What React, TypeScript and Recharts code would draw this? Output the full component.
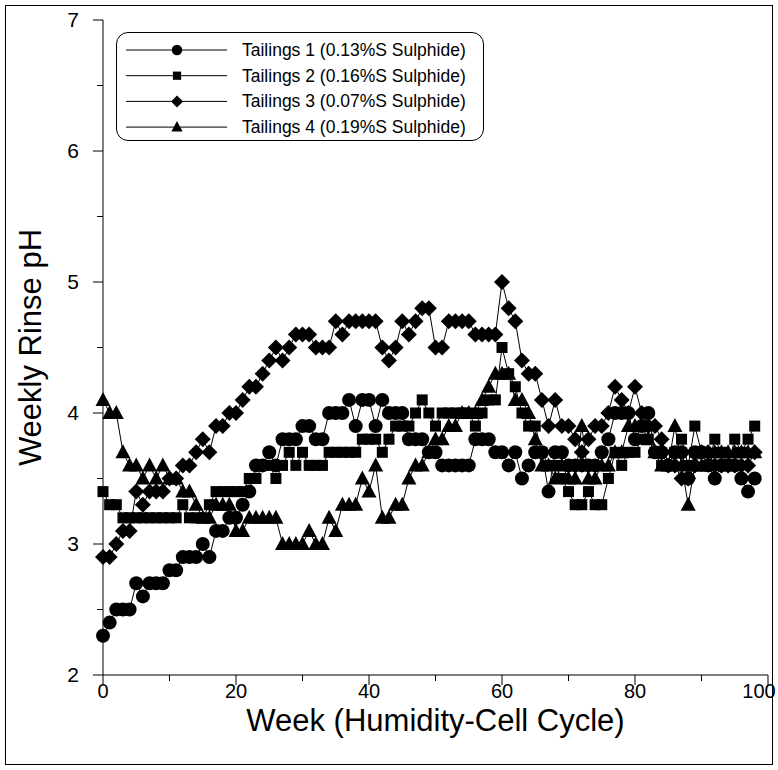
import { LineChart, Line, XAxis, YAxis, Legend } from 'recharts'

const FONT = 'Arial, "Liberation Sans", sans-serif'

const weeks = [
  0, 1, 2, 3, 4, 5, 6, 7, 8, 9, 10, 11, 12, 13, 14, 15, 16, 17, 18, 19,
  20, 21, 22, 23, 24, 25, 26, 27, 28, 29, 30, 31, 32, 33, 34, 35, 36, 37, 38, 39,
  40, 41, 42, 43, 44, 45, 46, 47, 48, 49, 50, 51, 52, 53, 54, 55, 56, 57, 58, 59,
  60, 61, 62, 63, 64, 65, 66, 67, 68, 69, 70, 71, 72, 73, 74, 75, 76, 77, 78, 79,
  80, 81, 82, 83, 84, 85, 86, 87, 88, 89, 90, 91, 92, 93, 94, 95, 96, 97, 98,
]

const tailings1 = [
  2.3, 2.4, 2.5, 2.5, 2.5, 2.7, 2.6, 2.7, 2.7, 2.7, 2.8, 2.8, 2.9, 2.9, 2.9, 3.0, 2.9, 3.1, 3.1, 3.2,
  3.2, 3.3, 3.4, 3.6, 3.6, 3.7, 3.6, 3.8, 3.8, 3.8, 3.9, 3.9, 3.8, 3.8, 4.0, 4.0, 4.0, 4.1, 3.9, 4.1,
  4.1, 3.9, 4.1, 4.0, 4.0, 4.0, 3.8, 3.8, 3.8, 3.7, 3.7, 3.6, 3.6, 3.6, 3.6, 3.6, 3.8, 3.8, 3.8, 3.7,
  3.7, 3.6, 3.7, 3.5, 3.6, 3.7, 3.7, 3.4, 3.7, 3.7, 3.6, 3.6, 3.6, 3.6, 3.6, 3.7, 3.8, 4.0, 4.0, 4.0,
  3.8, 3.9, 4.0, 3.7, 3.7, 3.6, 3.7, 3.7, 3.5, 3.7, 3.7, 3.6, 3.5, 3.6, 3.6, 3.6, 3.5, 3.4, 3.5,
]

const tailings2 = [
  3.4, 3.3, 3.3, 3.2, 3.2, 3.2, 3.2, 3.2, 3.2, 3.2, 3.2, 3.2, 3.3, 3.2, 3.2, 3.2, 3.3, 3.4, 3.4, 3.4,
  3.4, 3.4, 3.5, 3.5, 3.6, 3.6, 3.5, 3.6, 3.7, 3.6, 3.7, 3.6, 3.6, 3.6, 3.7, 3.7, 3.7, 3.7, 3.7, 3.8,
  3.8, 3.8, 3.7, 3.8, 3.9, 3.9, 3.9, 4.0, 4.1, 4.0, 3.9, 4.0, 4.0, 4.0, 4.0, 4.0, 3.9, 4.0, 4.1, 4.1,
  4.5, 4.3, 4.2, 4.0, 3.9, 3.9, 3.7, 3.6, 3.6, 3.5, 3.4, 3.3, 3.3, 3.4, 3.3, 3.3, 3.5, 3.7, 3.6, 3.7,
  3.7, 3.8, 3.8, 3.7, 3.6, 3.6, 3.7, 3.8, 3.6, 3.9, 3.7, 3.6, 3.8, 3.7, 3.6, 3.8, 3.7, 3.8, 3.9,
]

const tailings3 = [
  2.9, 2.9, 3.0, 3.1, 3.1, 3.4, 3.3, 3.4, 3.4, 3.4, 3.5, 3.5, 3.6, 3.6, 3.7, 3.8, 3.7, 3.9, 3.9, 4.0,
  4.0, 4.1, 4.2, 4.2, 4.3, 4.4, 4.5, 4.4, 4.5, 4.6, 4.6, 4.6, 4.5, 4.5, 4.5, 4.7, 4.6, 4.7, 4.7, 4.7,
  4.7, 4.7, 4.5, 4.4, 4.5, 4.7, 4.6, 4.7, 4.8, 4.8, 4.5, 4.5, 4.7, 4.7, 4.7, 4.7, 4.6, 4.6, 4.6, 4.6,
  5.0, 4.8, 4.7, 4.4, 4.3, 4.3, 4.1, 3.9, 4.1, 3.9, 3.9, 3.8, 3.7, 3.8, 3.9, 3.9, 4.0, 4.2, 4.1, 4.0,
  4.2, 4.0, 3.9, 3.9, 3.8, 3.6, 3.6, 3.5, 3.5, 3.6, 3.7, 3.7, 3.6, 3.6, 3.6, 3.6, 3.6, 3.6, 3.7,
]

const tailings4 = [
  4.1, 4.0, 4.0, 3.7, 3.6, 3.6, 3.5, 3.6, 3.5, 3.6, 3.5, 3.5, 3.4, 3.4, 3.3, 3.2, 3.2, 3.3, 3.3, 3.3,
  3.1, 3.1, 3.2, 3.2, 3.2, 3.2, 3.2, 3.0, 3.0, 3.0, 3.0, 3.1, 3.0, 3.0, 3.2, 3.1, 3.3, 3.3, 3.3, 3.5,
  3.4, 3.6, 3.2, 3.2, 3.3, 3.3, 3.5, 3.6, 3.6, 3.7, 3.8, 3.8, 3.9, 3.9, 4.0, 4.0, 4.0, 4.1, 4.2, 4.3,
  4.3, 4.3, 4.1, 4.1, 4.0, 3.8, 3.6, 3.6, 3.5, 3.6, 3.5, 3.5, 3.9, 3.5, 3.5, 3.6, 3.6, 3.7, 3.7, 3.9,
  3.9, 3.9, 3.8, 3.7, 3.6, 3.6, 3.9, 3.6, 3.3, 3.6, 3.6, 3.6, 3.7, 3.7, 3.7, 3.7, 3.7, 3.7, 3.7,
]

const xTicks = [0, 10, 20, 30, 40, 50, 60, 70, 80, 90, 100]
const yTicks = [2, 2.5, 3, 3.5, 4, 4.5, 5, 5.5, 6, 6.5, 7]

type Shape = 'circle' | 'square' | 'diamond' | 'triangle'

const series: { key: string; name: string; shape: Shape }[] = [
  { key: 't1', name: 'Tailings 1 (0.13%S Sulphide)', shape: 'circle' },
  { key: 't2', name: 'Tailings 2 (0.16%S Sulphide)', shape: 'square' },
  { key: 't3', name: 'Tailings 3 (0.07%S Sulphide)', shape: 'diamond' },
  { key: 't4', name: 'Tailings 4 (0.19%S Sulphide)', shape: 'triangle' },
]

const data = weeks.map((week, i) => ({
  week,
  t1: tailings1[i],
  t2: tailings2[i],
  t3: tailings3[i],
  t4: tailings4[i],
}))

function Marker({ shape, cx, cy, s = 1 }: { shape: Shape; cx: number; cy: number; s?: number }) {
  if (cx == null || cy == null) return null
  if (shape === 'circle') return <circle cx={cx} cy={cy} r={7 * s} fill="#000" />
  if (shape === 'square') {
    const h = 5.5 * s
    return <rect x={cx - h} y={cy - h} width={h * 2} height={h * 2} fill="#000" />
  }
  if (shape === 'diamond') {
    const h = 8 * s
    return <polygon points={`${cx},${cy - h} ${cx + h},${cy} ${cx},${cy + h} ${cx - h},${cy}`} fill="#000" />
  }
  const w = 7.5 * s
  return (
    <polygon
      points={`${cx},${cy - 8 * s} ${cx + w},${cy + 6 * s} ${cx - w},${cy + 6 * s}`}
      fill="#000"
    />
  )
}

const XTick = (props: any) => {
  const { x, y, payload } = props
  const major = payload.value % 20 === 0
  return (
    <g>
      <line x1={x} y1={y} x2={x} y2={y + (major ? 10 : 6)} stroke="#000" />
      {major && (
        <text
          x={x}
          y={y + 23}
          dx={payload.value === 100 ? -9 : 0}
          textAnchor="middle"
          fontSize={20}
          fontFamily={FONT}
          fill="#000"
        >
          {payload.value}
        </text>
      )}
    </g>
  )
}

const YTick = (props: any) => {
  const { x, y, payload } = props
  const major = Number.isInteger(payload.value)
  return (
    <g>
      <line x1={x - (major ? 10 : 6)} y1={y} x2={x} y2={y} stroke="#000" />
      {major && (
        <text x={x - 24} y={y + 7} textAnchor="end" fontSize={21} fontFamily={FONT} fill="#000">
          {payload.value}
        </text>
      )}
    </g>
  )
}

const LegendBox = () => (
  <div
    style={{
      width: 368,
      height: 109,
      border: '1px solid #000',
      borderRadius: 12,
      background: '#fff',
      boxSizing: 'border-box',
    }}
  >
    <svg width={366} height={107} style={{ display: 'block' }}>
      {series.map((s, i) => (
        <g key={s.key} transform={`translate(0, ${17 + i * 25.7})`}>
          <line x1={9} x2={110} y1={0} y2={0} stroke="#000" />
          <Marker shape={s.shape} cx={60} cy={0} s={0.75} />
          <text x={125} y={6} fontSize={17.5} fontFamily={FONT} fill="#000">
            {s.name}
          </text>
        </g>
      ))}
    </svg>
  </div>
)

export default function App() {
  return (
    <div style={{ position: 'absolute', left: 0, top: 0, width: 778, height: 770, background: '#fff' }}>
      <div
        style={{
          position: 'absolute',
          left: 5,
          top: 5,
          width: 768,
          height: 760,
          border: '1px solid #000',
          boxSizing: 'border-box',
        }}
      />
      <div style={{ position: 'absolute', left: 0, top: 0 }}>
        <LineChart width={778} height={770} data={data} margin={{ top: 20, right: 10, bottom: 0, left: 0 }}>
          <XAxis
            dataKey="week"
            type="number"
            domain={[0, 100]}
            ticks={xTicks}
            height={95}
            tickSize={0}
            tickMargin={0}
            tickLine={false}
            axisLine={{ stroke: '#000' }}
            tick={<XTick />}
            interval={0}
            label={{
              content: (p: any) => {
                const vb = p.viewBox
                return (
                  <text
                    x={vb.x + vb.width / 2}
                    y={vb.y + 56}
                    textAnchor="middle"
                    fontSize={31}
                    fontFamily={FONT}
                    fill="#000"
                  >
                    Week (Humidity-Cell Cycle)
                  </text>
                )
              },
            }}
          />
          <YAxis
            type="number"
            domain={[2, 7]}
            ticks={yTicks}
            width={103}
            tickSize={0}
            tickMargin={0}
            tickLine={false}
            axisLine={{ stroke: '#000' }}
            tick={<YTick />}
            interval={0}
            label={{
              content: (p: any) => {
                const vb = p.viewBox
                const cx = vb.x + 30
                const cy = vb.y + vb.height / 2
                return (
                  <text
                    x={cx}
                    y={cy}
                    transform={`rotate(-90 ${cx} ${cy})`}
                    textAnchor="middle"
                    dominantBaseline="central"
                    fontSize={31}
                    fontFamily={FONT}
                    fill="#000"
                  >
                    Weekly Rinse pH
                  </text>
                )
              },
            }}
          />
          <Legend
            layout="vertical"
            align="center"
            verticalAlign="middle"
            wrapperStyle={{ left: 116, top: 32, width: 368 }}
            content={() => <LegendBox />}
          />
          {series.map((s) => (
            <Line
              key={s.key}
              dataKey={s.key}
              name={s.name}
              type="linear"
              stroke="#000"
              strokeWidth={1}
              isAnimationActive={false}
              dot={(p: any) => <Marker key={`${s.key}-${p.index}`} shape={s.shape} cx={p.cx} cy={p.cy} />}
              activeDot={false}
            />
          ))}
        </LineChart>
      </div>
    </div>
  )
}
